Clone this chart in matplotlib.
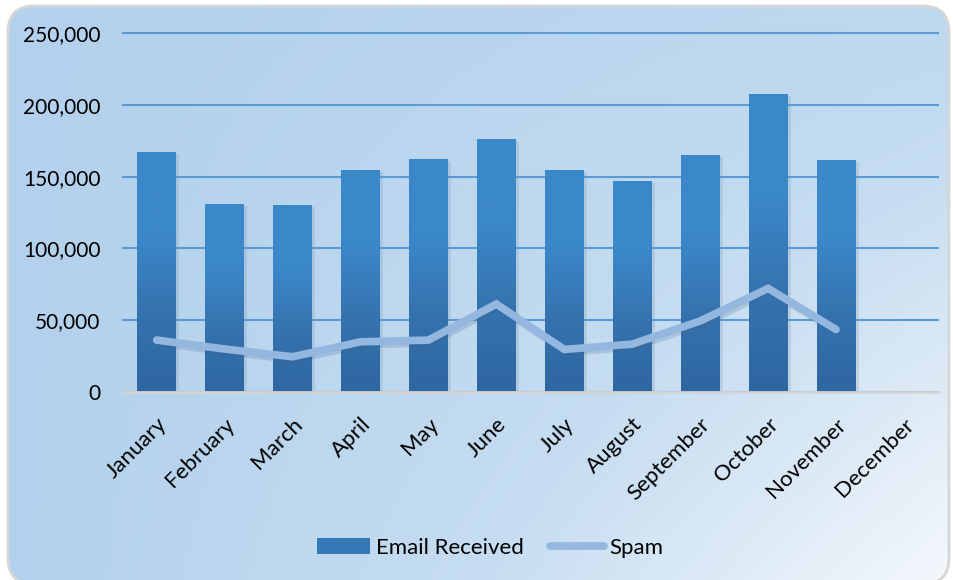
import numpy as np
import matplotlib.pyplot as plt
from matplotlib.patches import FancyBboxPatch
from matplotlib.colors import LinearSegmentedColormap
from matplotlib.ticker import FuncFormatter
from matplotlib.transforms import ScaledTranslation
import matplotlib.patheffects as pe

months = ["January", "February", "March", "April", "May", "June",
          "July", "August", "September", "October", "November", "December"]
email_received = [167000, 131000, 130200, 154600, 162300, 176200,
                  154600, 146900, 165000, 207500, 161600, np.nan]
spam = [36200, 30000, 24600, 35000, 36200, 61300,
        29700, 33400, 49500, 72200, 43600, np.nan]

plt.rcParams["font.family"] = ["Lato", "DejaVu Sans"]

fig = plt.figure(figsize=(9.54, 5.8), dpi=100)

# fond en dégradé (coordonnées en pixels, origine en bas)
bg = fig.add_axes([0, 0, 1, 1], zorder=0)
bg.set_xlim(0, 954)
bg.set_ylim(0, 580)
bg.axis("off")
xx, yy = np.meshgrid(np.linspace(0, 1, 300), np.linspace(0, 1, 200))
t = 0.3 * xx + 0.7 * xx * yy
bg_cmap = LinearSegmentedColormap.from_list("bg", ["#b3d1ec", "#c6ddf1", "#f4f8fc"])
frame = FancyBboxPatch((8, -4), 941, 578, boxstyle="round,pad=0,rounding_size=26",
                       facecolor="none", edgecolor="#d6d6d6", linewidth=2, zorder=3)
bg.add_patch(frame)
img = bg.imshow(t, cmap=bg_cmap, origin="upper", extent=(8, 949, -4, 574), aspect="auto", zorder=1)
img.set_clip_path(frame)

ax = fig.add_axes([0.1286, 0.324, 0.8546, 0.619], zorder=1)
ax.patch.set_alpha(0)

x = np.arange(len(months))
bars = ax.bar(x, np.nan_to_num(email_received), width=0.57, color="#3883c4", zorder=2,
              path_effects=[pe.SimplePatchShadow(offset=(2.5, -1.5), shadow_rgbFace="#6a88a8", alpha=0.2),
                            pe.Normal()])

# dégradé des barres
bar_cmap = LinearSegmentedColormap.from_list("bar", ["#2e66a0", "#3573ae", "#3b88c9", "#3b88c9"])
grad = np.linspace(0, 1, 256).reshape(-1, 1)
for b in bars:
    if b.get_height() <= 0:
        continue
    im = ax.imshow(grad, cmap=bar_cmap, origin="lower", aspect="auto",
                   extent=(b.get_x(), b.get_x() + b.get_width(), 0, b.get_height()), zorder=2.5)
    im.set_clip_path(b)

ax.plot(x, spam, color="#93b7df", linewidth=5.5, solid_capstyle="round", solid_joinstyle="miter",
        zorder=3,
        path_effects=[pe.SimpleLineShadow(offset=(1.5, -2), shadow_color="#40608a", alpha=0.2),
                      pe.Normal()])

ax.set_xlim(-0.5, 11.5)
ax.set_ylim(0, 250000)
ax.set_yticks(np.arange(0, 250001, 50000))
ax.yaxis.set_major_formatter(FuncFormatter(lambda v, p: f"{int(v):,}"))
ax.grid(axis="y", color="#5b9bd5", linewidth=1.5, zorder=1)
for gl in ax.get_ygridlines():
    gl.set_clip_on(False)
ax.set_axisbelow(True)
for s in ["top", "right", "left"]:
    ax.spines[s].set_visible(False)
ax.spines["bottom"].set_color("#d4d4d4")
ax.spines["bottom"].set_linewidth(2)
ax.tick_params(axis="y", length=0, labelsize=15, colors="black", pad=16)
ax.tick_params(axis="x", length=0, labelsize=16, colors="black", pad=21)
ax.set_xticks(x)
ax.set_xticklabels(months, rotation=45, ha="right", va="center", rotation_mode="anchor")
shift = ScaledTranslation(7 / 100, 0, fig.dpi_scale_trans)
for lbl in ax.get_xticklabels():
    lbl.set_transform(lbl.get_transform() + shift)

# légende
h_bar = plt.Rectangle((0, 0), 1, 1, facecolor="#3478b8", edgecolor="none")
h_line = plt.Line2D([], [], color="#93b7df", linewidth=5.5, solid_capstyle="round")
fig.legend([h_bar, h_line], ["Email Received", "Spam"], loc="center",
           bbox_to_anchor=(0.5 + 13 / 954, 1 - 548 / 580), ncol=2, frameon=False, fontsize=16,
           handlelength=2.4, handleheight=0.7, handletextpad=0.25, columnspacing=1.2)

fig.savefig("out.png", dpi=100)
